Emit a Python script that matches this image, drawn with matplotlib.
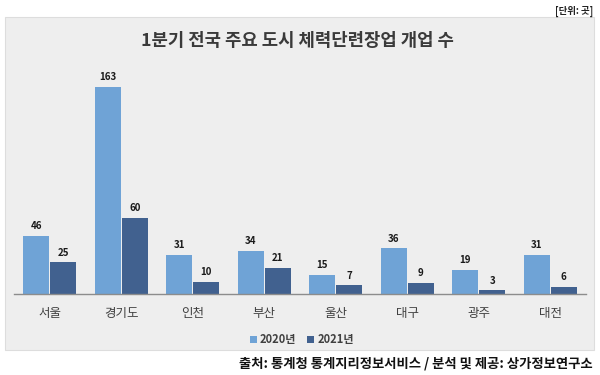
import matplotlib
matplotlib.use("Agg")
import matplotlib.pyplot as plt
from matplotlib.patches import Rectangle, Patch
import numpy as np

plt.rcParams['font.family'] = ['Noto Sans CJK KR', 'DejaVu Sans']

cities = ['서울', '경기도', '인천', '부산', '울산', '대구', '광주', '대전']
y2020 = [46, 163, 31, 34, 15, 36, 19, 31]
y2021 = [25, 60, 10, 21, 7, 9, 3, 6]
series_names = ['2020년', '2021년']
title = '1분기 전국 주요 도시 체력단련장업 개업 수'
unit = '[단위: 곳]'
source = '출처: 통계청 통계지리정보서비스 / 분석 및 제공: 상가정보연구소'

c2020 = '#6FA3D6'
c2021 = '#41618F'
txt = '#404040'

W, H = 600, 375
fig = plt.figure(figsize=(6, 3.75), dpi=100)
fig.patch.set_facecolor('white')

# gray panel
px0, py0, px1, py1 = 5, 17, 594, 350
fig.patches.append(Rectangle((px0 / W, 1 - py1 / H), (px1 - px0) / W, (py1 - py0) / H,
                             transform=fig.transFigure, facecolor='#EEEEEE',
                             edgecolor='#DDDDDD', linewidth=0.8, zorder=-5))

ax_l, ax_r, ax_b, ax_t = 14, 586, 294.3, 70
ax = fig.add_axes([ax_l / W, 1 - ax_b / H, (ax_r - ax_l) / W, (ax_b - ax_t) / H])
ax.set_zorder(2)
ax.set_facecolor('none')

x = np.arange(len(cities))
w = 0.365
off = 0.19
b1 = ax.bar(x - off, y2020, w, color=c2020, label=series_names[0], zorder=2)
b2 = ax.bar(x + off, y2021, w, color=c2021, label=series_names[1], zorder=2)
for bars in (b1, b2):
    for r in bars:
        ax.annotate(f'{int(r.get_height())}', (r.get_x() + r.get_width() / 2, r.get_height()),
                    xytext=(0, 3.5), textcoords='offset points', ha='center', va='bottom',
                    fontsize=7, fontweight='bold', color='#1a1a1a')

ax.set_xlim(-0.5, len(cities) - 0.5)
ax.set_ylim(0, (ax_b - ax_t) / ((294.3 - 86.7) / 163))
ax.set_xticks(x)
ax.set_xticklabels(cities, fontsize=9, color=txt)
ax.tick_params(axis='x', length=0, pad=9)
ax.set_yticks([])
for s in ['left', 'right', 'top']:
    ax.spines[s].set_visible(False)
ax.spines['bottom'].set_color('#8C8C8C')
ax.spines['bottom'].set_linewidth(1.0)

handles = [Patch(facecolor=c2020), Patch(facecolor=c2021)]
leg = fig.legend(handles, series_names, loc='center', bbox_to_anchor=(302 / W, 1 - 340 / H),
                 ncol=2, frameon=False, fontsize=8, handlelength=0.6, handleheight=0.6,
                 handletextpad=0.3, columnspacing=1.0)
for t in leg.get_texts():
    t.set_color(txt)
    t.set_fontweight('bold')

fig.text(297 / W, 1 - 41 / H, title, ha='center', va='center', fontsize=12.8,
         fontweight='bold', color='#3a3a3a')
fig.text(593 / W, 1 - 11 / H, unit, ha='right', va='center', fontsize=6.8,
         fontweight='bold', color='#222222')
fig.text(593 / W, 1 - 364 / H, source, ha='right', va='center', fontsize=9.6,
         fontweight='bold', color='#111111')

fig.savefig('out.png', dpi=100, facecolor='white')
